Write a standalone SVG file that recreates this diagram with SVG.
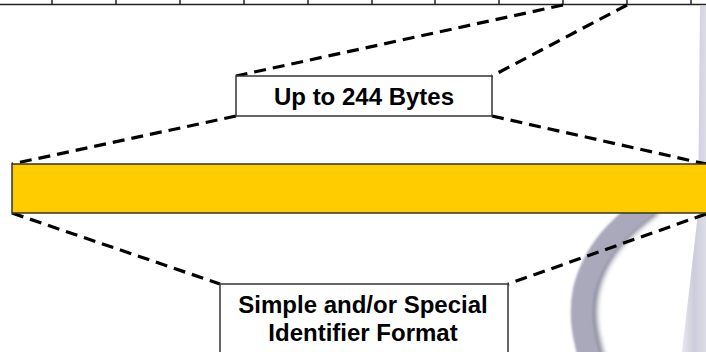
<svg xmlns="http://www.w3.org/2000/svg" width="706" height="352" viewBox="0 0 706 352">
  <defs>
    <style>
      .rule { stroke: #222; stroke-width: 1.5; fill: none; }
      .dash { stroke: #000; stroke-width: 3.2; stroke-dasharray: 12 7; fill: none; }
      .box { fill: #fff; stroke: #333; stroke-width: 1.5; }
      .label { font-family: "Liberation Sans", Arial, sans-serif; font-weight: bold; font-size: 24px; fill: #000; text-anchor: middle; }
      .cable { fill: none; }
    </style>
    <linearGradient id="edgeGrad" x1="0" y1="0" x2="1" y2="0">
      <stop offset="0" stop-color="#e8e8f0"/>
      <stop offset="0.5" stop-color="#ccccdc"/>
      <stop offset="1" stop-color="#dcdce6"/>
    </linearGradient>
    <filter id="shade" x="-30%" y="-30%" width="160%" height="160%">
      <feGaussianBlur stdDeviation="2.5"/>
    </filter>
    <filter id="soft" x="-20%" y="-20%" width="140%" height="140%">
      <feGaussianBlur stdDeviation="1"/>
    </filter>
  </defs>

  <rect width="706" height="352" fill="#fff"/>

  <!-- backdrop: pale panel edge and curved cable on the right -->
  <g id="backdrop">
    <path d="M700,6 L706,6 L706,352 L682,352 L698,213 Z" fill="url(#edgeGrad)"/>
    <path class="cable" d="M652,205 C624,226 597,250 588,290 C583,315 587,335 594,360" stroke="#8a8a9c" stroke-width="22" filter="url(#shade)"/>
    <path class="cable" d="M648,205 C620,226 594,250 584,290 C579,315 583,335 590,360" stroke="#a9a9bb" stroke-width="22" filter="url(#soft)"/>
  </g>

  <!-- byte ruler along the top edge -->
  <g id="ruler">
    <line class="rule" x1="0" y1="4.5" x2="706" y2="4.5"/>
    <path class="rule" d="M52,0V5 M116,0V5 M180,0V5 M244,0V5 M308,0V5 M372,0V5 M435,0V5 M499,0V5 M563,0V5 M627,0V5 M691,0V5"/>
  </g>

  <g id="connectors">
    <line class="dash" x1="563" y1="5" x2="236" y2="76"/>
    <line class="dash" x1="627" y1="5" x2="492" y2="76"/>
    <line class="dash" x1="236" y1="116" x2="12" y2="164"/>
    <line class="dash" x1="492" y1="116" x2="706" y2="164"/>
    <line class="dash" x1="12" y1="213" x2="220" y2="284"/>
    <line class="dash" x1="706" y1="214" x2="508" y2="284"/>
  </g>

  <g id="size-label">
    <rect class="box" x="236" y="76" width="256" height="40"/>
    <text class="label" x="364" y="105">Up to 244 Bytes</text>
  </g>

  <g id="data-field">
    <rect x="12" y="164" width="700" height="49" fill="#ffcc00" stroke="#333" stroke-width="1.5"/>
  </g>

  <g id="format-label">
    <rect class="box" x="220" y="284" width="288" height="80"/>
    <text class="label" x="363" y="313">Simple and/or Special</text>
    <text class="label" x="363" y="341">Identifier Format</text>
  </g>
</svg>
